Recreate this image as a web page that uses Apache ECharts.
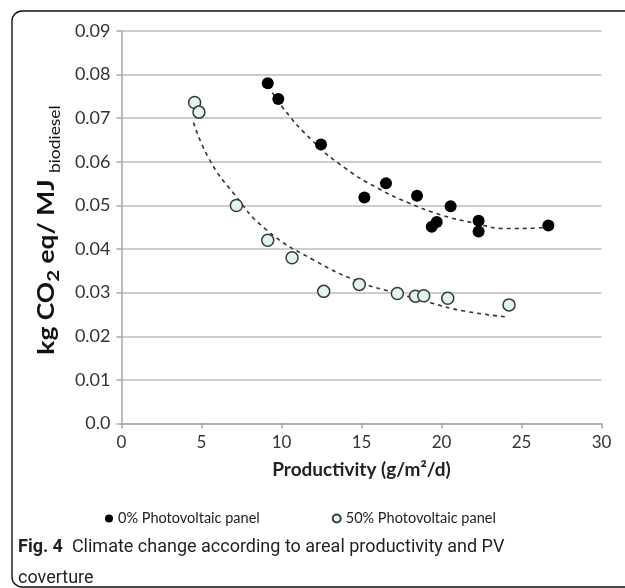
<!DOCTYPE html>
<html>
<head>
<meta charset="utf-8">
<script src="https://cdn.jsdelivr.net/npm/echarts@6/dist/echarts.min.js"></script>
<style>html,body{margin:0;padding:0;background:#fff;}#c{width:625px;height:588px;}</style>
</head>
<body>
<div id="c"></div>
<script>
// 0% photovoltaic panel: [productivity, kg CO2 eq / MJ]
const pv0X = [9.14, 9.80, 12.47, 15.18, 16.53, 18.47, 20.57, 19.39, 19.70, 22.32, 22.32, 26.68];
const pv0Y = [0.0780, 0.0744, 0.0640, 0.0518, 0.0551, 0.0522, 0.0498, 0.0451, 0.0462, 0.0465, 0.0440, 0.0454];
// 50% photovoltaic panel
const pv50X = [4.57, 4.84, 7.18, 9.14, 10.66, 12.64, 14.86, 17.24, 18.37, 18.89, 20.39, 24.22];
const pv50Y = [0.0736, 0.0714, 0.0500, 0.0420, 0.0380, 0.0303, 0.0319, 0.0298, 0.0292, 0.0293, 0.0287, 0.0272];
// dashed trend lines
const trend0X = [9.2, 10, 12, 14, 16, 18, 20, 22, 24, 26, 26.6];
const trend0Y = [0.0775, 0.0728, 0.0646, 0.0585, 0.0540, 0.0505, 0.0478, 0.0460, 0.0447, 0.0448, 0.0452];
const trend50X = [4.5, 5.5, 7, 9, 12, 15, 17.2, 19.3, 21.4, 24.2];
const trend50Y = [0.0690, 0.0605, 0.0528, 0.0446, 0.0375, 0.0323, 0.0299, 0.0277, 0.0258, 0.0244];
const seriesNames = ['0% Photovoltaic panel', '50% Photovoltaic panel'];
const xTitle = 'Productivity (g/m²/d)';
const yTitleParts = ['kg CO', '2', ' eq/ MJ ', 'biodiesel'];
const captionBold = 'Fig. 4';
const captionText = 'Climate change according to areal productivity and PV\ncoverture';

const zip = (a, b) => a.map((v, i) => [v, b[i]]);
const chart = echarts.init(document.getElementById('c'), null, {renderer: 'canvas'});
const FONT = 'Lato, "Open Sans", sans-serif';
const CAPFONT = 'Roboto, "Open Sans", sans-serif';
chart.setOption({
  animation: false,
  backgroundColor: '#fff',
  graphic: [{
    type: 'rect', shape: {x: 12, y: 11, width: 640, height: 576, r: 10},
    style: {fill: 'none', stroke: '#111', lineWidth: 1.4}, silent: true, z: -10
  }, {
    type: 'text', x: 47, y: 230, rotation: Math.PI / 2, scaleX: 1.2, silent: true,
    style: {
      text: yTitleParts[0] + '{s|' + yTitleParts[1] + '}' + yTitleParts[2] + '{b|' + yTitleParts[3] + '}',
      fontFamily: FONT, fontSize: 22, fontWeight: 'bold', fill: '#111',
      align: 'center', verticalAlign: 'middle',
      rich: {
        s: {fontFamily: FONT, fontSize: 17, fontWeight: 'bold', fill: '#111', padding: [3, 0, 0, 0], verticalAlign: 'bottom'},
        b: {fontFamily: FONT, fontSize: 14.5, fontWeight: 'normal', fill: '#111', padding: [16, 0, 0, 0], verticalAlign: 'bottom'}
      }
    }
  }],
  title: {
    text: '{b|' + captionBold + '}  ' + captionText,
    left: 13, top: 527,
    textStyle: {
      fontFamily: CAPFONT, fontSize: 18, fontWeight: 'normal', color: '#231f20', lineHeight: 31,
      rich: {b: {fontFamily: CAPFONT, fontSize: 18, fontWeight: 'bold', color: '#231f20', lineHeight: 31}}
    }
  },
  legend: {
    data: seriesNames.map(n => ({name: n, icon: 'circle'})),
    top: 506, left: 100,
    itemWidth: 8, itemHeight: 8, itemGap: 72,
    textStyle: {fontFamily: FONT, fontSize: 14.5, color: '#222'}
  },
  grid: {left: 121.5, right: 23.5, top: 31, bottom: 164.5},
  xAxis: {
    type: 'value', min: 0, max: 30, interval: 5,
    name: xTitle, nameLocation: 'middle', nameGap: 37,
    nameTextStyle: {fontFamily: FONT, fontSize: 19, fontWeight: 'bold', color: '#222'},
    axisLine: {lineStyle: {color: '#a6a6a6', width: 1.5}},
    axisTick: {show: true, length: 5, lineStyle: {color: '#a6a6a6', width: 1.5}},
    axisLabel: {fontFamily: FONT, fontSize: 17, color: '#333', margin: 11},
    splitLine: {show: false}
  },
  yAxis: {
    type: 'value', min: 0, max: 0.09, interval: 0.01,
    axisLine: {show: true, lineStyle: {color: '#a6a6a6', width: 1.5}},
    axisTick: {show: true, length: 5, lineStyle: {color: '#a6a6a6', width: 1.5}},
    axisLabel: {fontFamily: FONT, fontSize: 18, color: '#333', margin: 11,
      formatter: v => (Math.abs(v) < 1e-9 ? '0.0' : v.toFixed(2))},
    splitLine: {show: true, lineStyle: {color: '#bdbdbd', width: 1.5}}
  },
  series: [
    {name: 'trend0', type: 'line', data: zip(trend0X, trend0Y), smooth: true, showSymbol: false, z: 1,
      lineStyle: {color: '#333', width: 1.6, type: [4, 4]}},
    {name: 'trend50', type: 'line', data: zip(trend50X, trend50Y), smooth: true, showSymbol: false, z: 1,
      lineStyle: {color: '#333', width: 1.6, type: [4, 4]}},
    {name: seriesNames[0], type: 'scatter', data: zip(pv0X, pv0Y), symbolSize: 12, z: 3,
      itemStyle: {color: '#000', opacity: 1}},
    {name: seriesNames[1], type: 'scatter', data: zip(pv50X, pv50Y), symbolSize: 12, z: 3,
      itemStyle: {color: '#e2f3f0', borderColor: '#2f3d3b', borderWidth: 1.5, opacity: 1}}
  ]
});
</script>
</body>
</html>
